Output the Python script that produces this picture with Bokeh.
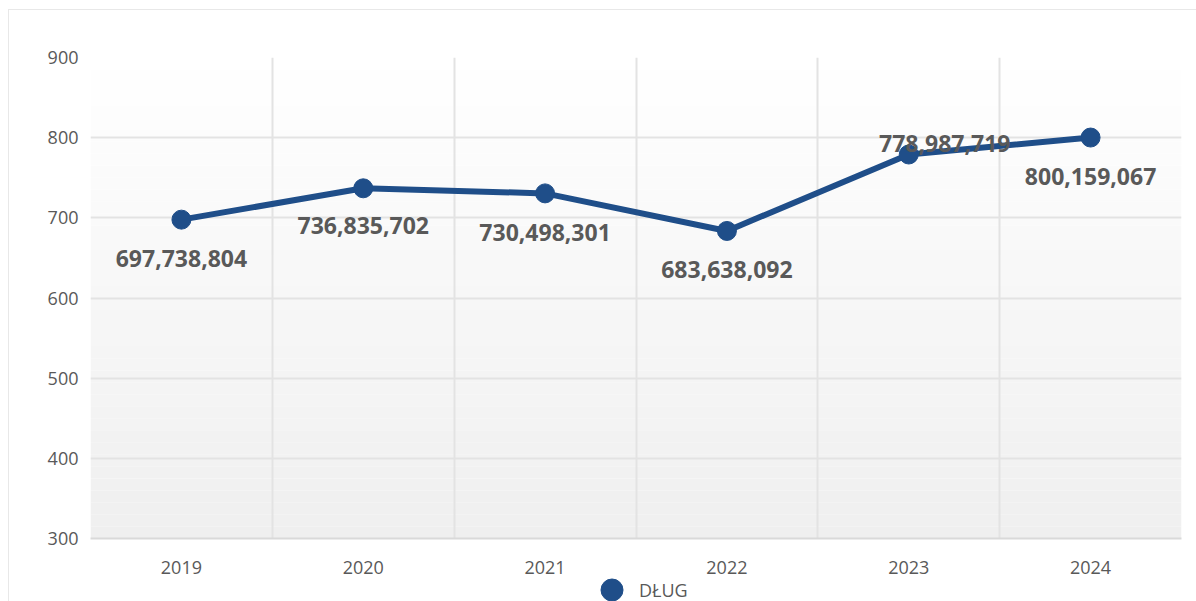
from bokeh.plotting import figure
from bokeh.models import ColumnDataSource, FixedTicker, Legend, LegendItem, Range1d, Column
from bokeh.embed import file_html
from bokeh.resources import INLINE
from bokeh.core.properties import value

# ---- data ----
years = ["2019", "2020", "2021", "2022", "2023", "2024"]
debt = [697738804, 736835702, 730498301, 683638092, 778987719, 800159067]
y_ticks = [300, 400, 500, 600, 700, 800, 900]
series_name = "DŁUG"

# ---- label placement (style) ----
label_dx = [0, 0, 0, 0, 36, 0]
label_dy = [39, 37, 39, 39, -11, 39]

LINE_COLOR = "#1f4e89"
TEXT_GRAY = "#595959"
FONT = "Open Sans"

xs = [i + 0.5 for i in range(len(years))]
ys = [d / 1e6 for d in debt]
labels = [f"{d:,}" for d in debt]

src = ColumnDataSource(dict(x=xs, y=ys, label=labels, dx=label_dx, dy=label_dy))

p = figure(width=1187, height=568, output_backend="svg", toolbar_location=None,
           x_range=Range1d(0, len(years)), y_range=Range1d(y_ticks[0], y_ticks[-1]),
           min_border_left=81, min_border_right=15, min_border_top=47, min_border_bottom=40)
p.outline_line_color = None
p.background_fill_color = "#ffffff"
p.border_fill_color = "#ffffff"

# gradient background for plot area
n = 40
lo, hi = y_ticks[0], y_ticks[-1]
step = (hi - lo) / n
bottoms, tops, cols = [], [], []
for i in range(n):
    t = (i + 0.5) / n  # 0 bottom -> 1 top
    c0, c1 = 0xef, 0xff
    v = int(round(c0 + (c1 - c0) * t))
    bottoms.append(lo + i * step)
    tops.append(lo + (i + 1) * step)
    cols.append("#%02x%02x%02x" % (v, v, v))
p.quad(left=0, right=len(years), bottom=bottoms, top=tops, fill_color=cols,
       line_color=None, level="image")

# axes
p.xaxis.ticker = FixedTicker(ticks=xs)
p.xaxis.major_label_overrides = {x: yr for x, yr in zip(xs, years)}
p.xaxis.major_tick_line_color = None
p.xaxis.minor_tick_line_color = None
p.xaxis.axis_line_color = "#d9d9d9"
p.xaxis.axis_line_width = 2
p.xaxis.major_label_standoff = 16
p.yaxis.ticker = FixedTicker(ticks=y_ticks)
p.yaxis.major_tick_line_color = None
p.yaxis.minor_tick_line_color = None
p.yaxis.axis_line_color = None
p.yaxis.major_label_standoff = 6
for ax in (p.xaxis, p.yaxis):
    ax.major_label_text_font = FONT
    ax.major_label_text_font_size = "18px"
    ax.major_label_text_color = TEXT_GRAY

# grids
p.xgrid.ticker = FixedTicker(ticks=list(range(1, len(years))))
p.xgrid.grid_line_color = "#e3e3e3"
p.xgrid.grid_line_width = 2
p.ygrid.ticker = FixedTicker(ticks=y_ticks)
p.ygrid.grid_line_color = "#e3e3e3"
p.ygrid.grid_line_width = 2

# series
p.line("x", "y", source=src, line_color=LINE_COLOR, line_width=6)
p.scatter("x", "y", source=src, size=19, fill_color=LINE_COLOR, line_color=LINE_COLOR)
p.text("x", "y", text="label", source=src, x_offset="dx", y_offset="dy",
       text_font=value(FONT), text_font_style="bold", text_font_size="23px",
       text_color=TEXT_GRAY, text_align="center", text_baseline="middle")

# ---- legend strip below the chart ----
lp = figure(width=1187, height=23, output_backend="svg", toolbar_location=None,
            x_range=Range1d(0, 1), y_range=Range1d(0, 1),
            x_axis_type=None, y_axis_type=None,
            min_border_left=0, min_border_right=0, min_border_top=0, min_border_bottom=0)
lp.grid.visible = False
lp.outline_line_color = None
lp.background_fill_color = "#ffffff"
lp.border_fill_color = "#ffffff"
# series markers drawn out of view here; only their legend glyph is shown
dots = lp.scatter("x", "y", source=src, fill_color=LINE_COLOR, line_color=LINE_COLOR)

legend = Legend(items=[LegendItem(label=series_name, renderers=[dots])],
                location=(494, -16), orientation="horizontal",
                border_line_alpha=0, background_fill_alpha=0, padding=0, margin=0,
                label_text_font=FONT, label_text_font_size="18px", label_text_color=TEXT_GRAY,
                glyph_width=55, glyph_height=55, label_standoff=-20)
lp.add_layout(legend, "center")

layout = Column(children=[p, lp], spacing=0,
                styles={"margin": "9px 0 0 8px",
                        "border-top": "1px solid #e8e8e8", "border-left": "1px solid #e8e8e8"})

open("out.html", "w").write(file_html(layout, INLINE))
